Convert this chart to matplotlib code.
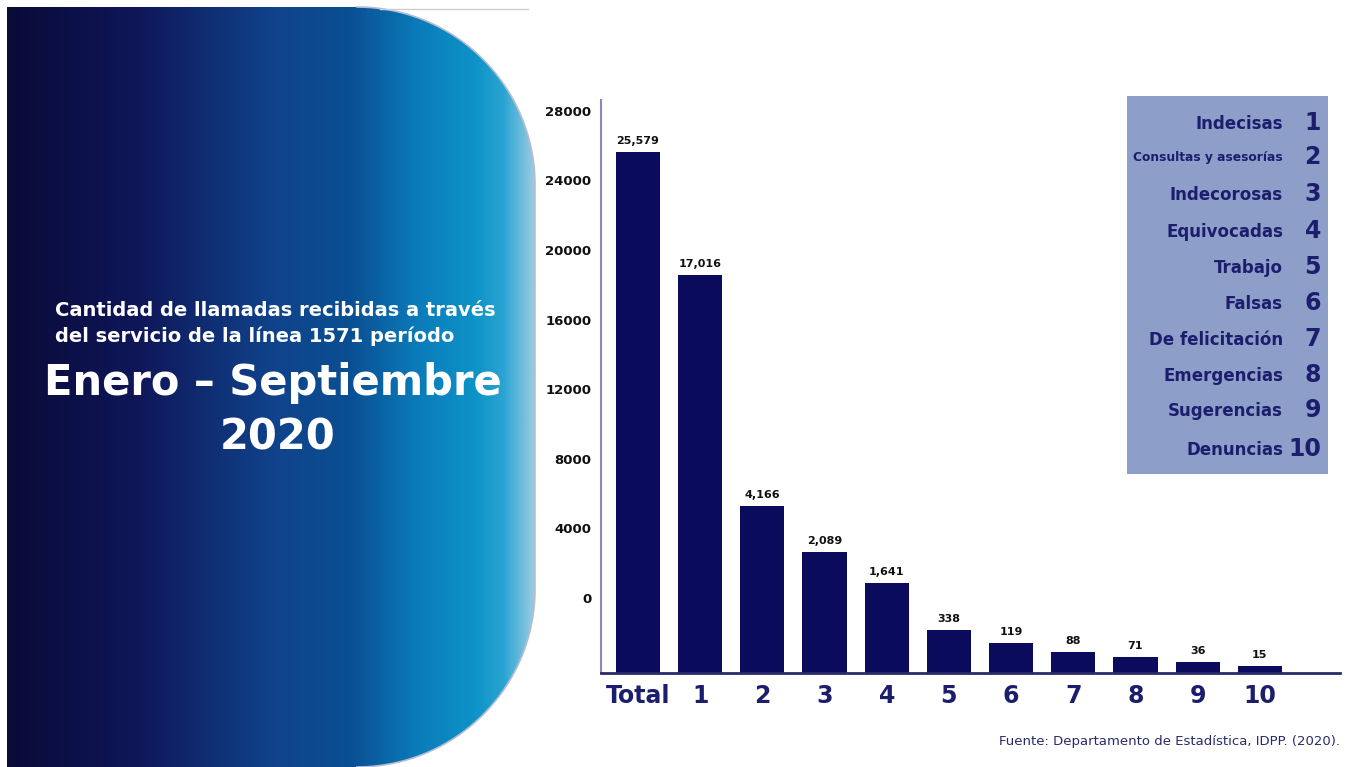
import numpy as np
import matplotlib.pyplot as plt
from matplotlib.path import Path
from matplotlib.patches import PathPatch, Rectangle
from matplotlib.colors import LinearSegmentedColormap

plt.rcParams['font.family'] = ['DejaVu Sans']

# data
categories = ['Total', '1', '2', '3', '4', '5', '6', '7', '8', '9', '10']
call_counts = [25579, 17016, 4166, 2089, 1641, 338, 119, 88, 71, 36, 15]
# the bars in the original are not drawn to the axis scale; tops as drawn, in axis units
bar_tops = [25630, 18560, 5290, 2640, 860, -1840, -2590, -3100, -3390, -3680, -3910]
baseline = -4310
y_ticks = [0, 4000, 8000, 12000, 16000, 20000, 24000, 28000]
legend_names = ['Indecisas', 'Consultas y asesorías', 'Indecorosas', 'Equivocadas',
                'Trabajo', 'Falsas', 'De felicitación', 'Emergencias',
                'Sugerencias', 'Denuncias']

navy = '#0b0b5e'
text_navy = '#1c1d6c'

fig = plt.figure(figsize=(13.5, 7.67), dpi=100)

# background layer in pixel coordinates
bg = fig.add_axes([0, 0, 1, 1])
bg.set_xlim(0, 1350)
bg.set_ylim(767, 0)
bg.axis('off')

# panel: rectangle with the two right corners rounded
left, right, top, bottom, r = 7, 535, 7, 767, 178
t1 = np.linspace(-np.pi / 2, 0, 40)
t2 = np.linspace(0, np.pi / 2, 40)
arc_top = np.column_stack([right - r + r * np.cos(t1), top + r + r * np.sin(t1)])
arc_bot = np.column_stack([right - r + r * np.cos(t2), bottom - r + r * np.sin(t2)])
right_edge = np.vstack([arc_top, arc_bot])
outline = np.vstack([[left, top], right_edge, [left, bottom], [left, top]])
panel = PathPatch(Path(outline), facecolor='none', edgecolor='none')
bg.add_patch(panel)
cmap = LinearSegmentedColormap.from_list('panel', [
    (0.0, '#0a0a38'), (0.25, '#0f175a'), (0.5, '#10428a'), (0.65, '#0a4f93'),
    (0.78, '#0a7cba'), (0.89, '#0e94c8'), (0.94, '#2aa4d2'), (0.975, '#6cbcdc'),
    (1.0, '#9dcde2')])
grad = np.linspace(0, 1, 512).reshape(1, -1)
im = bg.imshow(grad, cmap=cmap, extent=(left, right + 1, bottom, top), aspect='auto')
im.set_clip_path(panel)
bg.plot(right_edge[:, 0], right_edge[:, 1], color='#b4bcd2', lw=1.2)
bg.plot([380, 528], [9, 9], color='#cfcfcf', lw=1)

bg.text(55, 310, 'Cantidad de llamadas recibidas a través', color='white',
        fontsize=14, fontweight='bold', ha='left', va='center')
bg.text(55, 336, 'del servicio de la línea 1571 período', color='white',
        fontsize=14, fontweight='bold', ha='left', va='center')
bg.text(273, 383, 'Enero – Septiembre', color='white',
        fontsize=30, fontweight='bold', ha='center', va='center')
bg.text(278, 437, '2020', color='white',
        fontsize=30, fontweight='bold', ha='center', va='center')

# legend box
bg.add_patch(Rectangle((1127, 96), 201, 378, facecolor='#8d9ec8', edgecolor='none'))
row_y = [124, 158, 195, 232, 268, 304, 340, 376, 411, 450]
for i, (name, y) in enumerate(zip(legend_names, row_y)):
    fs = 8.8 if i == 1 else 12
    bg.text(1283, y, name, color=text_navy, fontsize=fs, fontweight='bold',
            ha='right', va='center')
    bg.text(1321, y - 1, str(i + 1), color=text_navy, fontsize=17, fontweight='bold',
            ha='right', va='center')

bg.text(1340, 742, 'Fuente: Departamento de Estadística, IDPP. (2020).',
        color='#2a2a6a', fontsize=9.5, ha='right', va='center')

# bar chart
ax = fig.add_axes([601 / 1350, 94 / 767, 739 / 1350, 573 / 767])
ax.patch.set_alpha(0)
x = np.arange(len(categories))
heights = [t - baseline for t in bar_tops]
ax.bar(x, heights, bottom=baseline, width=0.71, color=navy)
for xi, top_v, cnt in zip(x, bar_tops, call_counts):
    ax.text(xi, top_v + 350, f'{cnt:,}', ha='center', va='bottom',
            fontsize=8, fontweight='bold', color='#111111')

ax.set_xlim(-0.595, 11.29)
ax.set_ylim(baseline, 28620)
ax.set_yticks(y_ticks)
ax.set_yticklabels([str(v) for v in y_ticks], fontsize=9.5, fontweight='bold', color='#111111')
ax.set_xticks(x)
ax.set_xticklabels(categories, fontsize=17, fontweight='bold', color=text_navy)
ax.tick_params(axis='both', length=0)
ax.tick_params(axis='y', pad=7)
ax.tick_params(axis='x', pad=8)
for s in ['top', 'right']:
    ax.spines[s].set_visible(False)
ax.spines['left'].set_color('#8a86b8')
ax.spines['left'].set_linewidth(1.5)
ax.spines['bottom'].set_color('#2a2a6a')
ax.spines['bottom'].set_linewidth(2)

fig.savefig('out.png', dpi=100)
